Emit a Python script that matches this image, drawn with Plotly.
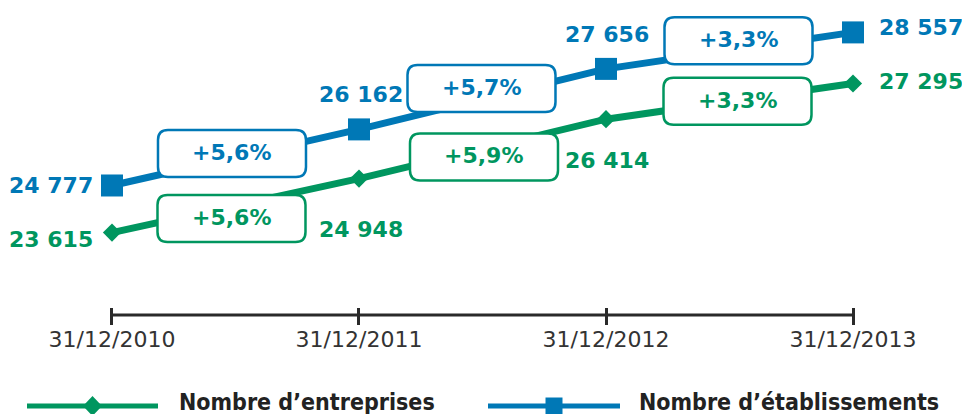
import plotly.graph_objects as go

# ---- data ----
dates = ["31/12/2010", "31/12/2011", "31/12/2012", "31/12/2013"]
etablissements = [24777, 26162, 27656, 28557]
entreprises = [23615, 24948, 26414, 27295]
etab_growth = ["+5,6%", "+5,7%", "+3,3%"]
entr_growth = ["+5,6%", "+5,9%", "+3,3%"]
series_names = ["Nombre d\u2019entreprises", "Nombre d\u2019établissements"]

BLUE = "#0078B6"
GREEN = "#00965F"
AXIS = "#2a2a2a"
TXT = "#333333"
W, H = 962, 414
FONT = "DejaVu Sans"

xi = list(range(len(dates)))

def fmt(v):
    return f"{v:,}".replace(",", " ")

fig = go.Figure()

fig.add_trace(go.Scatter(
    x=xi, y=etablissements, mode="lines+markers",
    line=dict(color=BLUE, width=7),
    marker=dict(symbol="square", size=22, color=BLUE),
    name=series_names[1], showlegend=False, cliponaxis=False, hoverinfo="skip"))
fig.add_trace(go.Scatter(
    x=xi, y=entreprises, mode="lines+markers",
    line=dict(color=GREEN, width=7),
    marker=dict(symbol="diamond", size=14, color=GREEN),
    name=series_names[0], showlegend=False, cliponaxis=False, hoverinfo="skip"))

annotations = []
shapes = []

# value labels (pixel offsets from each point)
blue_lab = [(-17, 0, "right"), (2, 35, "center"), (1, 34, "center"), (24, 5, "left")]
green_lab = [(-17, -7, "right"), (2, -51, "center"), (1, -41, "center"), (24, 2, "left")]
for vals, offs, col in [(etablissements, blue_lab, BLUE), (entreprises, green_lab, GREEN)]:
    for i, v in enumerate(vals):
        dx, dy, anc = offs[i]
        annotations.append(dict(
            x=i, y=v, xref="x", yref="y", text=f"<b>{fmt(v)}</b>", showarrow=False,
            xanchor=anc, yanchor="middle", xshift=dx, yshift=dy,
            font=dict(family=FONT, size=22, color=col)))

# growth boxes (rounded rectangles around segment midpoints)
BW, BH, R = 148, 47, 10
blue_box = [(-3.5, 4), (-1, 10.7), (9, 10)]
green_box = [(-4, -13), (1.5, -8), (8, 0)]

def rounded(cx, cy):
    x0, x1 = cx - BW / 2, cx + BW / 2
    y0, y1 = cy - BH / 2, cy + BH / 2
    return (f"M{x0+R},{y0} L{x1-R},{y0} Q{x1},{y0} {x1},{y0+R} "
            f"L{x1},{y1-R} Q{x1},{y1} {x1-R},{y1} L{x0+R},{y1} "
            f"Q{x0},{y1} {x0},{y1-R} L{x0},{y0+R} Q{x0},{y0} {x0+R},{y0} Z")

for vals, labels, offs, col in [(etablissements, etab_growth, blue_box, BLUE),
                                (entreprises, entr_growth, green_box, GREEN)]:
    for i, lab in enumerate(labels):
        mx = i + 0.5
        my = (vals[i] + vals[i + 1]) / 2
        dx, dy = offs[i]
        shapes.append(dict(
            type="path", xref="x", yref="y", xsizemode="pixel", ysizemode="pixel",
            xanchor=mx, yanchor=my, path=rounded(dx, dy),
            line=dict(color=col, width=2.5), fillcolor="white", layer="above"))
        annotations.append(dict(
            x=mx, y=my, xref="x", yref="y", text=f"<b>{lab}</b>", showarrow=False,
            xanchor="center", yanchor="middle", xshift=dx, yshift=dy + 1,
            font=dict(family=FONT, size=22, color=col)))

# axis baseline
axis_y = (H - 315) / H
tick_top = (H - 307) / H
shapes.append(dict(type="line", xref="x", yref="paper", x0=xi[0], x1=xi[-1],
                   y0=axis_y, y1=axis_y, line=dict(color=AXIS, width=3), layer="below"))

# legend (drawn manually)
leg_y = (H - 406) / H
leg_items = [
    (series_names[0], GREEN, 27, 158, "diamond", 177),
    (series_names[1], BLUE, 488, 620, "square", 637),
]
for name, col, lx0, lx1, sym, tx in leg_items:
    shapes.append(dict(type="line", xref="paper", yref="paper",
                       x0=lx0 / W, x1=lx1 / W, y0=leg_y, y1=leg_y,
                       line=dict(color=col, width=5)))
    cxp = (lx0 + lx1) / 2
    if sym == "diamond":
        path = "M0,10 L9.5,0 L0,-10 L-9.5,0 Z"
    else:
        path = "M-8.5,-8.5 L8.5,-8.5 L8.5,8.5 L-8.5,8.5 Z"
    shapes.append(dict(type="path", xref="paper", yref="paper",
                       xsizemode="pixel", ysizemode="pixel",
                       xanchor=cxp / W, yanchor=leg_y, path=path,
                       fillcolor=col, line=dict(width=0)))
    annotations.append(dict(
        x=tx / W, y=(H - 402) / H, xref="paper", yref="paper",
        text=f"<b>{name}</b>", showarrow=False, xanchor="left", yanchor="middle",
        font=dict(family="DejaVu Sans Condensed, " + FONT, size=23, color="#222222")))

fig.update_layout(
    width=W, height=H,
    margin=dict(l=0, r=0, t=0, b=0),
    paper_bgcolor="white", plot_bgcolor="white",
    showlegend=False,
    shapes=shapes, annotations=annotations,
    xaxis=dict(range=[-0.4534, 3.4413], tickvals=xi, ticktext=dates,
               showgrid=False, zeroline=False, showline=False,
               ticks="outside", ticklen=17, tickwidth=3, tickcolor=AXIS,
               anchor="free", position=tick_top, ticklabelstandoff=-4,
               tickfont=dict(family=FONT, size=22, color=TXT), fixedrange=True),
    yaxis=dict(range=[19135, 29357], visible=False, fixedrange=True),
)

fig.write_html("out.html", post_script="document.body.style.margin='0';",
               config={"displayModeBar": False})
